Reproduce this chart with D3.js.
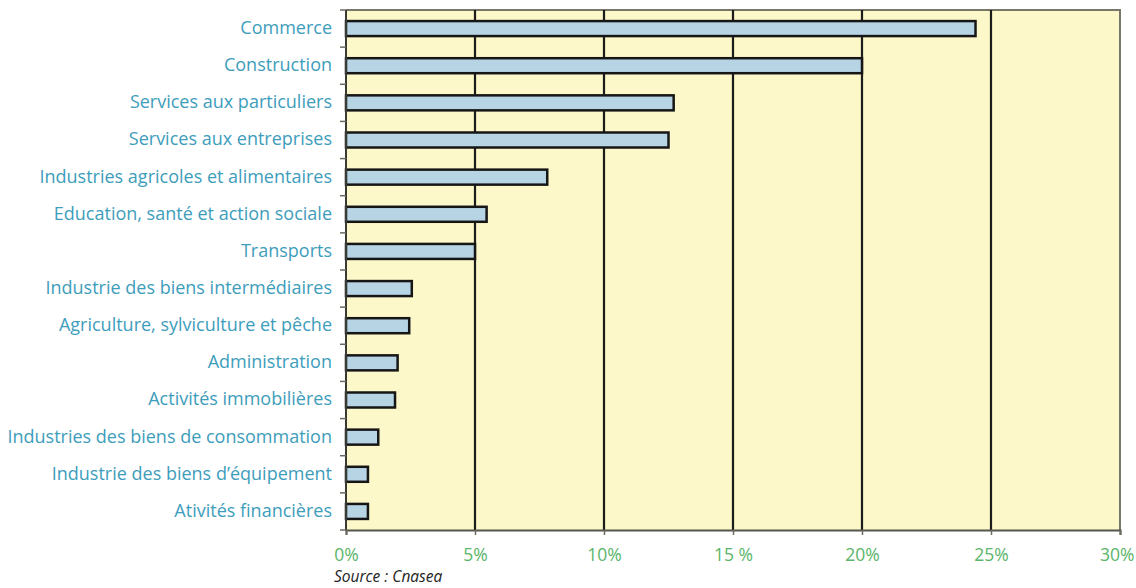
<!DOCTYPE html>
<html>
<head>
<meta charset="utf-8">
<script src="https://cdn.jsdelivr.net/npm/d3@7"></script>
<style>
  html, body { margin: 0; padding: 0; background: #ffffff; }
  svg { display: block; }
</style>
</head>
<body>
<svg id="chart" width="1136" height="588"></svg>
<script>
// Sectors, top to bottom
const categories = [
  "Commerce",
  "Construction",
  "Services aux particuliers",
  "Services aux entreprises",
  "Industries agricoles et alimentaires",
  "Education, santé et action sociale",
  "Transports ",
  "Industrie des biens intermédiaires",
  "Agriculture, sylviculture et pêche",
  "Administration",
  "Activités immobilières",
  "Industries des biens de consommation",
  "Industrie des biens d’équipement",
  "Ativités financières"
];
// Share of each sector, in %
const values = [24.4, 20.0, 12.7, 12.5, 7.8, 5.45, 5.0, 2.55, 2.45, 2.0, 1.9, 1.25, 0.85, 0.85];
const tickValues = [0, 5, 10, 15, 20, 25, 30];
const tickLabels = ["0%", "5%", "10%", "15 %", "20%", "25%", "30%"];
const sourceText = "Source : Cnasea";

const svg = d3.select("#chart");
const margin = { left: 346, right: 16, top: 10, bottom: 58 };
const W = 1136, H = 588;
const x = d3.scaleLinear().domain([0, 30]).range([margin.left, W - margin.right]);
const y = d3.scaleBand().domain(categories).range([margin.top, H - margin.bottom]).paddingInner(0).paddingOuter(0);

const labelFont = "'Open Sans', 'DejaVu Sans', sans-serif";

// plot background
svg.append("rect")
  .attr("x", x(0)).attr("y", margin.top)
  .attr("width", x(30) - x(0)).attr("height", y.range()[1] - margin.top)
  .attr("fill", "#fcf8c9");

// top and right frame
svg.append("path")
  .attr("d", `M${x(0)},${margin.top}H${x(30)}V${y.range()[1]}`)
  .attr("fill", "none").attr("stroke", "#77776a").attr("stroke-width", 2);

// vertical gridlines
svg.append("g").selectAll("line")
  .data(tickValues.slice(1, -1))
  .join("line")
  .attr("x1", d => x(d)).attr("x2", d => x(d))
  .attr("y1", margin.top).attr("y2", y.range()[1])
  .attr("stroke", "#1c1c1c").attr("stroke-width", 2.2);

// bars
const barH = 15;
svg.append("g").selectAll("rect")
  .data(categories.map((c, i) => ({ c, v: values[i] })))
  .join("rect")
  .attr("x", x(0))
  .attr("y", d => y(d.c) + y.bandwidth() / 2 - barH / 2)
  .attr("width", d => x(d.v) - x(0))
  .attr("height", barH)
  .attr("fill", "#b7d4e4")
  .attr("stroke", "#161616").attr("stroke-width", 2.5);

// left axis
const yAxis = svg.append("g").attr("transform", `translate(${x(0)},0)`);
yAxis.append("line")
  .attr("x1", 0).attr("x2", 0).attr("y1", margin.top).attr("y2", y.range()[1])
  .attr("stroke", "#3a3a34").attr("stroke-width", 2);
yAxis.selectAll(".tk")
  .data(d3.range(categories.length + 1))
  .join("line")
  .attr("x1", -6).attr("x2", 0)
  .attr("y1", i => margin.top + i * y.step()).attr("y2", i => margin.top + i * y.step())
  .attr("stroke", "#6a6a60").attr("stroke-width", 1.5);
yAxis.selectAll("text")
  .data(categories)
  .join("text")
  .attr("x", -14)
  .attr("y", d => y(d) + y.bandwidth() / 2)
  .attr("dy", "0.3em")
  .attr("text-anchor", "end")
  .attr("font-family", labelFont)
  .attr("font-size", 18)
  .attr("fill", "#3d9dbb")
  .text(d => d);

// bottom axis
const xAxis = d3.axisBottom(x)
  .tickValues(tickValues)
  .tickFormat((d, i) => tickLabels[i])
  .tickSize(5)
  .tickPadding(14);
const gx = svg.append("g")
  .attr("transform", `translate(0,${y.range()[1]})`)
  .call(xAxis);
gx.select(".domain").attr("stroke", "#55554c").attr("stroke-width", 2);
gx.selectAll(".tick line").attr("stroke", "#6a6a60").attr("stroke-width", 1.5);
gx.selectAll(".tick text")
  .attr("font-family", labelFont)
  .attr("font-size", 17.5)
  .attr("fill", "#5bb56a");
// keep the last label inside the page edge
gx.selectAll(".tick text").filter(d => d === 30)
  .attr("text-anchor", "end").attr("x", W - 2 - x(30));

// source
svg.append("text")
  .attr("x", 334).attr("y", 582)
  .attr("font-family", labelFont)
  .attr("font-style", "italic")
  .attr("font-size", 15.5)
  .attr("fill", "#222")
  .text(sourceText);
</script>
</body>
</html>
